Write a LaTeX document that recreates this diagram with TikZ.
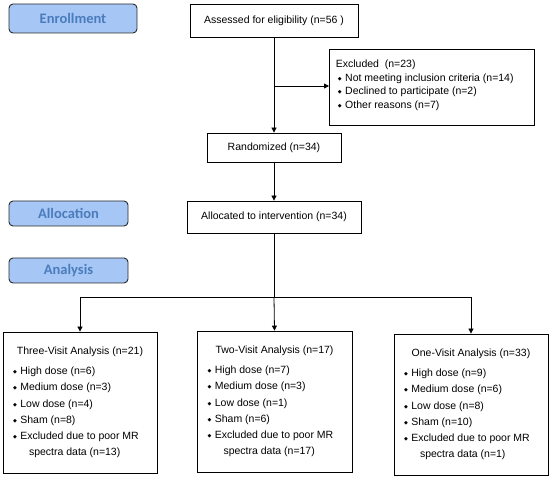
\documentclass[tikz,border=0pt]{standalone}
\usepackage{fontspec}
\setmainfont{Liberation Sans}
\newfontfamily\carlito{Carlito}
\newfontfamily\dejavu{DejaVu Sans}
\usetikzlibrary{arrows.meta}
\definecolor{labfill}{HTML}{A6C6F6}
\definecolor{labtext}{HTML}{4A7CBC}
\definecolor{labdraw}{HTML}{2A2A2A}
\newcommand{\bul}{\raisebox{1pt}{\dejavu\fontsize{5}{5}\selectfont ◆}\hspace{3.5pt}}
\newcommand{\anbox}[6]{\parbox{140pt}{\fontsize{10.5}{16.3}\selectfont
  {\centering #1\par}\vspace{3.7pt}\raggedright
  \hspace*{3pt}\bul High dose #2\par
  \hspace*{3pt}\bul Medium dose #3\par
  \hspace*{3pt}\bul Low dose #4\par
  \hspace*{3pt}\bul Sham #5\par
  \hspace*{3pt}\bul Excluded due to poor MR\par
  \hspace*{19pt}spectra data #6\par}}
\begin{document}
\begin{tikzpicture}[x=1pt,y=-1pt,
  stage/.style={draw=labdraw, line width=0.9pt, fill=labfill, rounded corners=4pt,
    text=labtext, font=\carlito\bfseries\fontsize{14.5}{16}\selectfont, inner sep=0pt},
  box/.style={draw=black, line width=0.8pt, inner sep=0pt,
    font=\fontsize{10.5}{12}\selectfont, align=center},
  arr/.style={-{Triangle[length=5pt,width=5pt]}, line width=0.8pt},
  ln/.style={line width=0.8pt}]
\useasboundingbox (0,0) rectangle (550,478);

% stage labels
\node[stage, minimum width=128, minimum height=29] (enr) at (73,18.5) {Enrollment};
\node[stage, minimum width=119, minimum height=25] (alc) at (68.5,213.5) {Allocation};
\node[stage, minimum width=119, minimum height=25] (ana) at (68.5,270.5) {Analysis};

% main flow
\node[box, minimum width=168, minimum height=33] (assess) at (274,20.5) {Assessed for eligibility (n=56 )};
\node[box, minimum width=205, minimum height=76, anchor=north west] (excl) at (329,49)
  {\parbox{192pt}{\fontsize{10.5}{13.7}\selectfont\raggedright
   Excluded\ \ (n=23)\par
   \hspace*{2pt}\bul Not meeting inclusion criteria (n=14)\par
   \hspace*{2pt}\bul Declined to participate (n=2)\par
   \hspace*{2pt}\bul Other reasons (n=7)\par\vspace{4pt}}};
\node[box, minimum width=134, minimum height=29] (rand) at (274,147.5) {Randomized (n=34)};
\node[box, minimum width=174, minimum height=32] (alloc) at (274,217) {Allocated to intervention (n=34)};

% analysis boxes
\node[box, minimum width=154, minimum height=141] (three) at (80,402.5)
  {\anbox{Three-Visit Analysis (n=21)}{(n=6)}{(n=3)}{(n=4)}{(n=8)}{(n=13)}};
\node[box, minimum width=155, minimum height=141] (two) at (274.5,401.5)
  {\anbox{Two-Visit Analysis (n=17)}{(n=7)}{(n=3)}{(n=1)}{(n=6)}{(n=17)}};
\node[box, minimum width=154, minimum height=141] (one) at (471,404.5)
  {\anbox{One-Visit Analysis (n=33)}{(n=9)}{(n=6)}{(n=8)}{(n=10)}{(n=1)}};

% connectors
\coordinate (br) at (assess.south |- 0,86);
\draw[arr] (assess.south) -- (rand.north);
\draw[arr] (br) -- (br -| excl.west);
\draw[arr] (rand.south) -- (alloc.north);
\coordinate (split) at (alloc.south |- 0,297);
\draw[ln] (alloc.south) -- (split);
\draw[ln] (three.north |- split) -- (one.north |- split);
\draw[arr] (three.north |- split) -- (three.north);
\draw[arr] (split) -- (two.north);
\draw[arr] (one.north |- split) -- (one.north);
\end{tikzpicture}
\end{document}
